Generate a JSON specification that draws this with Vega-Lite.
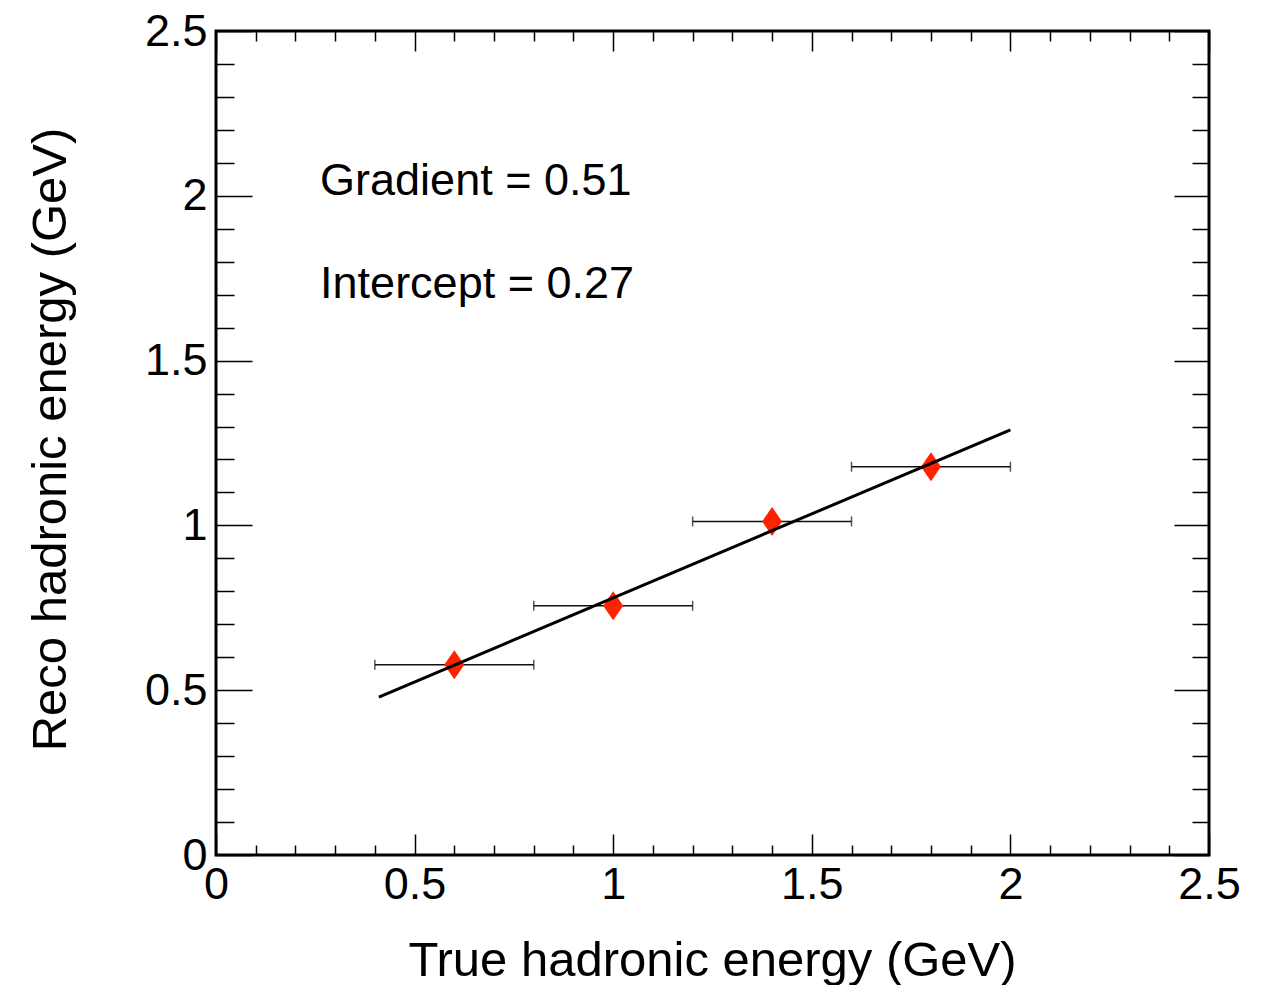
{
  "$schema": "https://vega.github.io/schema/vega-lite/v6.json",
  "width": 993,
  "height": 824,
  "autosize": {"type": "none"},
  "padding": {"left": 216, "top": 31, "right": 56, "bottom": 130},
  "background": "white",
  "config": {
    "view": {"stroke": "black", "strokeWidth": 3},
    "font": "Liberation Sans",
    "axis": {
      "domain": false,
      "grid": false,
      "labelFont": "Liberation Sans",
      "labelFontSize": 45,
      "labelColor": "black",
      "titleFont": "Liberation Sans",
      "titleFontSize": 49,
      "titleFontWeight": "normal",
      "titleColor": "black",
      "tickColor": "black",
      "tickWidth": 1.5,
      "labelFlush": false,
      "labelOverlap": false,
      "labelBound": false
    }
  },
  "datasets": {
    "pts": [
      {"x": 0.6, "xlo": 0.4, "xhi": 0.8, "y": 0.577},
      {"x": 1.0, "xlo": 0.8, "xhi": 1.2, "y": 0.756},
      {"x": 1.4, "xlo": 1.2, "xhi": 1.6, "y": 1.012},
      {"x": 1.8, "xlo": 1.6, "xhi": 2.0, "y": 1.178}
    ],
    "fit": [
      {"x": 0.41, "y": 0.479},
      {"x": 2.0, "y": 1.29}
    ]
  },
  "resolve": {"axis": {"x": "independent", "y": "independent"}},
  "layer": [
    {
      "data": {"name": "pts"},
      "mark": {"type": "rule", "color": "#111111", "strokeWidth": 1.5},
      "encoding": {
        "x": {"field": "xlo", "type": "quantitative", "scale": {"domain": [0, 2.5], "nice": false, "zero": false},
          "axis": {"orient": "bottom", "ticks": false, "values": [0, 0.5, 1, 1.5, 2, 2.5], "format": "~g", "labelPadding": 7,
            "title": "True hadronic energy (GeV)", "titleX": 496, "titleY": 120, "titleAlign": "center", "titleBaseline": "alphabetic", "titleAnchor": "middle"}},
        "x2": {"field": "xhi"},
        "y": {"field": "y", "type": "quantitative", "scale": {"domain": [0, 2.5], "nice": false, "zero": false},
          "axis": {"orient": "left", "ticks": false, "values": [0, 0.5, 1, 1.5, 2, 2.5], "format": "~g", "labelPadding": 9,
            "title": "Reco hadronic energy (GeV)", "titleX": -151, "titleY": 408, "titleAngle": -90, "titleAlign": "center", "titleBaseline": "alphabetic", "titleAnchor": "middle"}}
      }
    },
    {
      "data": {"name": "pts"},
      "transform": [{"fold": ["xlo", "xhi"], "as": ["end", "xe"]}],
      "mark": {"type": "tick", "orient": "vertical", "color": "#111111", "size": 10, "thickness": 1.5},
      "encoding": {
        "x": {"field": "xe", "type": "quantitative", "scale": {"domain": [0, 2.5], "nice": false, "zero": false},
          "axis": {"orient": "bottom", "labels": false, "title": null, "tickSize": -21, "values": [0, 0.5, 1, 1.5, 2, 2.5]}},
        "y": {"field": "y", "type": "quantitative", "scale": {"domain": [0, 2.5], "nice": false, "zero": false},
          "axis": {"orient": "left", "labels": false, "title": null, "tickSize": -36, "values": [0, 0.5, 1, 1.5, 2, 2.5]}}
      }
    },
    {
      "data": {"name": "pts"},
      "mark": {"type": "point", "shape": "M0,-1L0.69,0L0,1L-0.69,0Z", "size": 841, "filled": true, "color": "#ff2200", "opacity": 1, "strokeWidth": 0},
      "encoding": {
        "x": {"field": "x", "type": "quantitative", "scale": {"domain": [0, 2.5], "nice": false, "zero": false},
          "axis": {"orient": "bottom", "labels": false, "title": null, "tickSize": -10,
            "values": [0.1, 0.2, 0.3, 0.4, 0.6, 0.7, 0.8, 0.9, 1.1, 1.2, 1.3, 1.4, 1.6, 1.7, 1.8, 1.9, 2.1, 2.2, 2.3, 2.4]}},
        "y": {"field": "y", "type": "quantitative", "scale": {"domain": [0, 2.5], "nice": false, "zero": false},
          "axis": {"orient": "left", "labels": false, "title": null, "tickSize": -18,
            "values": [0.1, 0.2, 0.3, 0.4, 0.6, 0.7, 0.8, 0.9, 1.1, 1.2, 1.3, 1.4, 1.6, 1.7, 1.8, 1.9, 2.1, 2.2, 2.3, 2.4]}}
      }
    },
    {
      "data": {"name": "fit"},
      "mark": {"type": "line", "color": "black", "strokeWidth": 3},
      "encoding": {
        "x": {"field": "x", "type": "quantitative", "scale": {"domain": [0, 2.5], "nice": false, "zero": false},
          "axis": {"orient": "top", "labels": false, "title": null, "tickSize": -20, "values": [0, 0.5, 1, 1.5, 2, 2.5]}},
        "y": {"field": "y", "type": "quantitative", "scale": {"domain": [0, 2.5], "nice": false, "zero": false},
          "axis": {"orient": "right", "labels": false, "title": null, "tickSize": -35, "values": [0, 0.5, 1, 1.5, 2, 2.5]}}
      }
    },
    {
      "data": {"values": [{"x": 0.262, "y": 2.002, "label": "Gradient = 0.51"}]},
      "mark": {"type": "text", "align": "left", "baseline": "alphabetic", "fontSize": 45, "font": "Liberation Sans", "color": "black"},
      "encoding": {
        "x": {"field": "x", "type": "quantitative", "scale": {"domain": [0, 2.5], "nice": false, "zero": false},
          "axis": {"orient": "top", "labels": false, "title": null, "tickSize": -10,
            "values": [0.1, 0.2, 0.3, 0.4, 0.6, 0.7, 0.8, 0.9, 1.1, 1.2, 1.3, 1.4, 1.6, 1.7, 1.8, 1.9, 2.1, 2.2, 2.3, 2.4]}},
        "y": {"field": "y", "type": "quantitative", "scale": {"domain": [0, 2.5], "nice": false, "zero": false},
          "axis": {"orient": "right", "labels": false, "title": null, "tickSize": -17,
            "values": [0.1, 0.2, 0.3, 0.4, 0.6, 0.7, 0.8, 0.9, 1.1, 1.2, 1.3, 1.4, 1.6, 1.7, 1.8, 1.9, 2.1, 2.2, 2.3, 2.4]}},
        "text": {"field": "label"}
      }
    },
    {
      "data": {"values": [{"x": 0.262, "y": 1.69, "label": "Intercept = 0.27"}]},
      "mark": {"type": "text", "align": "left", "baseline": "alphabetic", "fontSize": 45, "font": "Liberation Sans", "color": "black"},
      "encoding": {
        "x": {"field": "x", "type": "quantitative", "scale": {"domain": [0, 2.5], "nice": false, "zero": false}, "axis": null},
        "y": {"field": "y", "type": "quantitative", "scale": {"domain": [0, 2.5], "nice": false, "zero": false}, "axis": null},
        "text": {"field": "label"}
      }
    }
  ]
}
